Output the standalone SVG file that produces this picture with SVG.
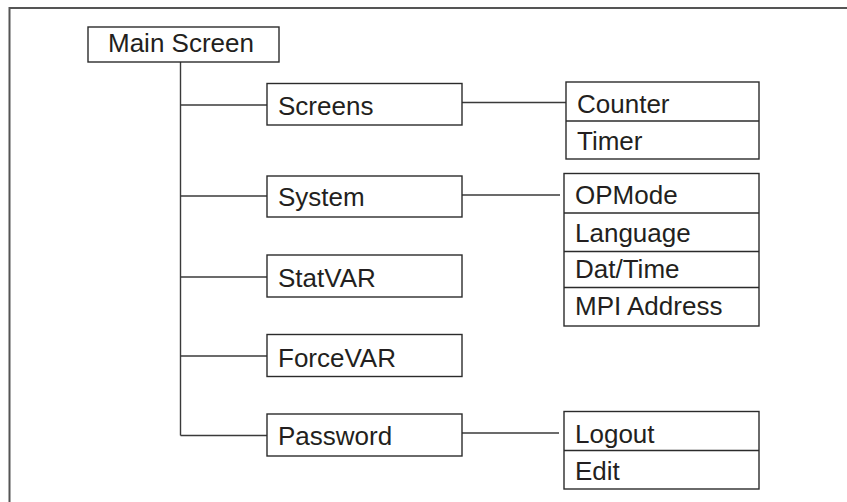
<svg xmlns="http://www.w3.org/2000/svg" width="847" height="502" viewBox="0 0 847 502">
<style>
.box{fill:#fff;stroke:#2b2b2b;stroke-width:1.4}
.div{stroke:#2b2b2b;stroke-width:1.4}
.ln{fill:none;stroke:#3a3a3a;stroke-width:1.4}
text{font-family:"Liberation Sans",Arial,Helvetica,sans-serif;font-size:26px;fill:#231f20}
</style>
<rect width="847" height="502" fill="#fff"/>
<path d="M9.5,502 V8 H847" fill="none" stroke="#555" stroke-width="2"/>
<g id="connectors">
<path class="ln" d="M180.5,62 V435.5"/>
<path class="ln" d="M180.5,105 H267"/>
<path class="ln" d="M180.5,196 H267"/>
<path class="ln" d="M180.5,277 H267"/>
<path class="ln" d="M180.5,356 H267"/>
<path class="ln" d="M180.5,435.5 H267"/>
<path class="ln" d="M462,102.5 H566"/>
<path class="ln" d="M462,195 H560"/>
<path class="ln" d="M462,433 H559"/>
</g>
<g id="main-screen">
<rect class="box" x="88" y="27" width="191" height="35"/>
<text x="108" y="52">Main Screen</text>
</g>
<g id="screens">
<rect class="box" x="267" y="83.5" width="195" height="41.5"/>
<text x="278" y="115">Screens</text>
</g>
<g id="system">
<rect class="box" x="267" y="176" width="195" height="41"/>
<text x="278" y="206">System</text>
</g>
<g id="statvar">
<rect class="box" x="267" y="255" width="195" height="42"/>
<text x="278" y="286.5">StatVAR</text>
</g>
<g id="forcevar">
<rect class="box" x="267" y="334.5" width="195" height="42"/>
<text x="278" y="366.5">ForceVAR</text>
</g>
<g id="password">
<rect class="box" x="267" y="414" width="195" height="42"/>
<text x="278" y="445">Password</text>
</g>
<g id="screens-list">
<rect class="box" x="566" y="82" width="193" height="77"/>
<line class="div" x1="566" y1="121" x2="759" y2="121"/>
<text x="577" y="113">Counter</text>
<text x="577" y="150">Timer</text>
</g>
<g id="system-list">
<rect class="box" x="564" y="173.5" width="195" height="152.5"/>
<line class="div" x1="564" y1="213" x2="759" y2="213"/>
<line class="div" x1="564" y1="251.5" x2="759" y2="251.5"/>
<line class="div" x1="564" y1="287.5" x2="759" y2="287.5"/>
<text x="575" y="203.5">OPMode</text>
<text x="575" y="241.5">Language</text>
<text x="575" y="278">Dat/Time</text>
<text x="575" y="314.5">MPI Address</text>
</g>
<g id="password-list">
<rect class="box" x="564" y="411.5" width="195" height="77.5"/>
<line class="div" x1="564" y1="450.5" x2="759" y2="450.5"/>
<text x="575" y="443">Logout</text>
<text x="575" y="480">Edit</text>
</g>
</svg>
